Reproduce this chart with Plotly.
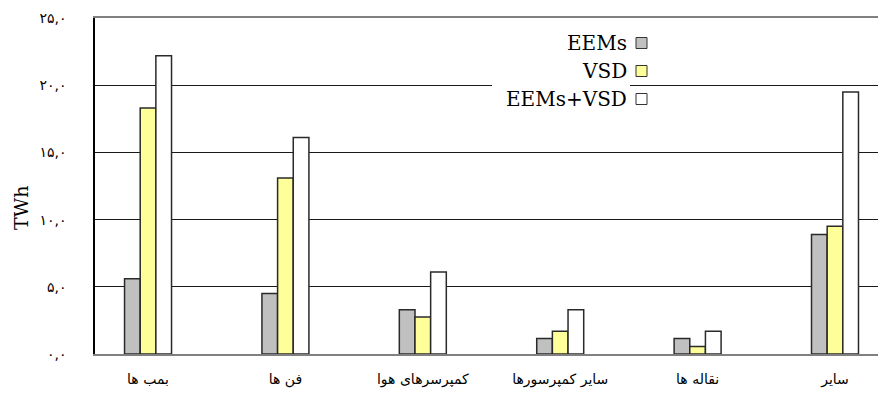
import plotly.graph_objects as go

# ---------------- data ----------------
categories = ["بمب ها", "فن ها", "کمپرسرهای هوا", "سایر کمپرسورها", "نقاله ها", "سایر"]
series_names = ["EEMs", "VSD", "EEMs+VSD"]
eems = [5.6, 4.5, 3.3, 1.15, 1.15, 8.9]
vsd = [18.3, 13.1, 2.75, 1.7, 0.55, 9.5]
eems_vsd = [22.2, 16.1, 6.1, 3.3, 1.7, 19.5]
y_tick_values = [0, 5, 10, 15, 20, 25]
y_tick_labels = ["۰,۰", "۵,۰", "۱۰,۰", "۱۵,۰", "۲۰,۰", "۲۵,۰"]
y_title = "TWh"

# ---------------- style ----------------
colors = ["#c0c0c0", "#ffff99", "#ffffff"]
W, H = 878, 394
L, R, T, B = 95, 0, 18, 40
PW, PH = W - L - R, H - T - B


def px_x(x):
    return (x - L) / PW


def px_y(y):
    return (H - B - y) / PH


fig = go.Figure()
for name, vals, c in zip(series_names, [eems, vsd, eems_vsd], colors):
    fig.add_bar(x=categories, y=vals, name=name, showlegend=False,
                marker=dict(color=c, line=dict(color="#2a2a2a", width=1.5)))

fig.update_layout(
    width=W, height=H,
    margin=dict(l=L, r=R, t=T, b=B, pad=0),
    paper_bgcolor="white", plot_bgcolor="white",
    barmode="group", bargap=0.658, bargroupgap=0,
)
fig.update_xaxes(range=[-0.386, 5.313], showline=True, mirror=True,
                 linecolor="#808080", linewidth=1.5,
                 ticks="", showgrid=False, zeroline=False,
                 tickfont=dict(family="DejaVu Sans", size=14, color="black"),
                 ticklabelstandoff=11)
fig.update_yaxes(range=[0, 25], tickvals=y_tick_values, ticktext=y_tick_labels,
                 showgrid=True, gridcolor="#1a1a1a", gridwidth=1,
                 showline=True, linecolor="black", linewidth=1.5, zeroline=False, ticks="",
                 tickfont=dict(family="DejaVu Sans", size=14, color="black"),
                 ticklabelstandoff=24)

# y-axis title
fig.add_annotation(xref="paper", yref="paper", x=px_x(21), y=px_y(208), text=y_title,
                   textangle=-90, showarrow=False, xanchor="center", yanchor="middle",
                   font=dict(family="DejaVu Serif", size=19, color="black"))

# custom legend (swatch on the right of the text)
fig.add_shape(type="rect", xref="paper", yref="paper", layer="above",
              x0=px_x(492), x1=px_x(630), y0=px_y(112), y1=px_y(28),
              fillcolor="white", line=dict(width=0))
rows_y = [43, 71, 99]
for name, c, ry in zip(series_names, colors, rows_y):
    fig.add_annotation(xref="paper", yref="paper", x=px_x(629), y=px_y(ry), text=name,
                       showarrow=False, xanchor="right", yanchor="middle",
                       font=dict(family="DejaVu Serif", size=20, color="black"))
    fig.add_shape(type="rect", xref="paper", yref="paper", layer="above",
                  x0=px_x(636), x1=px_x(647), y0=px_y(ry + 5.5), y1=px_y(ry - 5.5),
                  fillcolor=c, line=dict(color="#333333", width=1))

fig.write_html("out.html", config={"displayModeBar": False},
               post_script="document.body.style.margin='0';document.body.style.overflow='hidden';")
